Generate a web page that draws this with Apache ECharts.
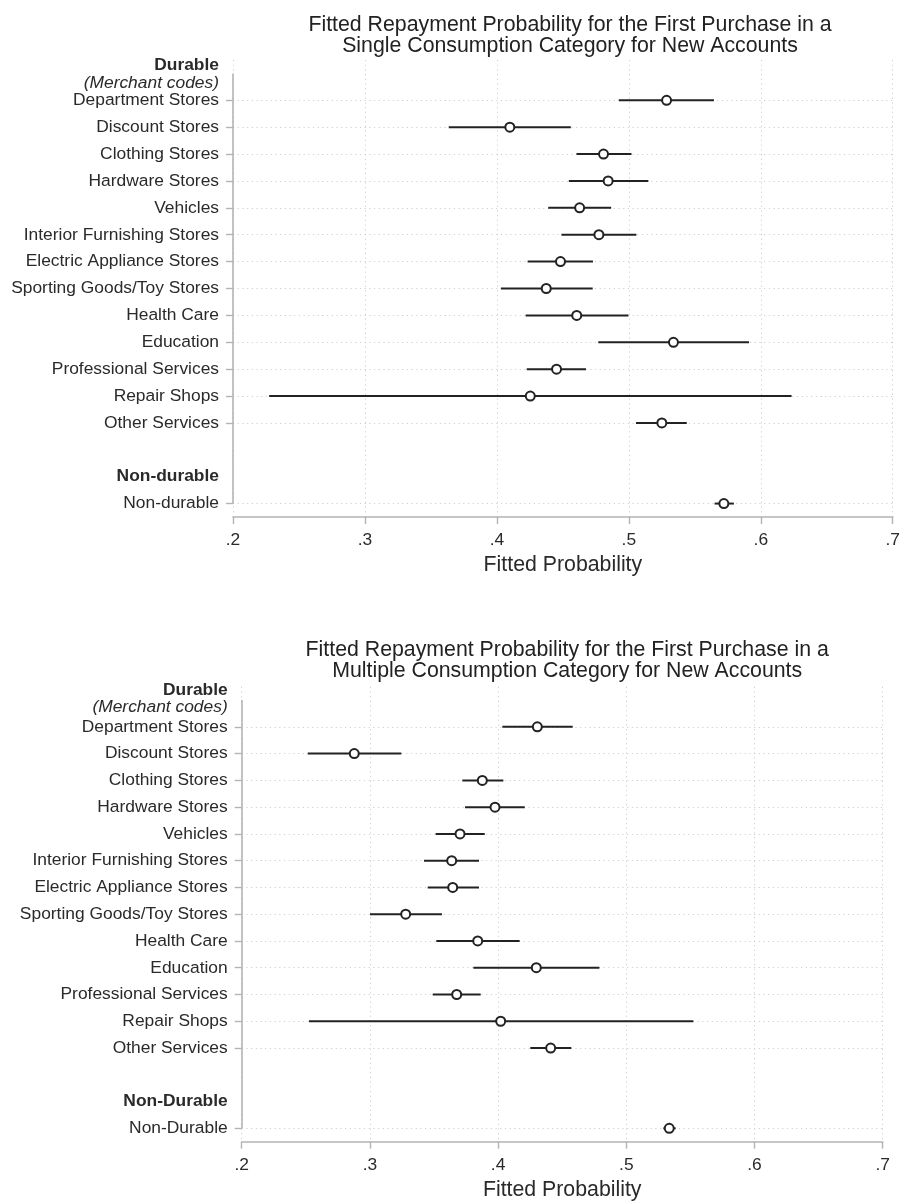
<!DOCTYPE html>
<html>
<head>
<meta charset="utf-8">
<script src="https://cdn.jsdelivr.net/npm/echarts@6/dist/echarts.min.js"></script>
<style>
html,body{margin:0;padding:0;background:#fff;}
#chart{width:903px;height:1202px;}
</style>
</head>
<body>
<div id="chart"></div>
<script>
// ---------- DATA ----------
const titleTop = "Fitted Repayment Probability for the First Purchase in a\nSingle Consumption Category for New Accounts";
const titleBottom = "Fitted Repayment Probability for the First Purchase in a\nMultiple Consumption Category for New Accounts";
const axisName = "Fitted Probability";
const xTickLabels = [".2", ".3", ".4", ".5", ".6", ".7"];

const catsTop = ["Department Stores","Discount Stores","Clothing Stores","Hardware Stores","Vehicles",
  "Interior Furnishing Stores","Electric Appliance Stores","Sporting Goods/Toy Stores","Health Care",
  "Education","Professional Services","Repair Shops","Other Services","Non-durable"];
const catsBottom = ["Department Stores","Discount Stores","Clothing Stores","Hardware Stores","Vehicles",
  "Interior Furnishing Stores","Electric Appliance Stores","Sporting Goods/Toy Stores","Health Care",
  "Education","Professional Services","Repair Shops","Other Services","Non-Durable"];
const groupsTop = ["Durable", "(Merchant codes)", "Non-durable"];
const groupsBottom = ["Durable", "(Merchant codes)", "Non-Durable"];

const estTop = [0.5286,0.4098,0.4808,0.4843,0.4627,0.4773,0.4482,0.4374,0.4605,0.5338,0.4452,0.4253,0.5250,0.5720];
const loTop  = [0.4924,0.3635,0.4603,0.4545,0.4389,0.4489,0.4233,0.4030,0.4218,0.4768,0.4226,0.2274,0.5054,0.5650];
const hiTop  = [0.5645,0.4560,0.5020,0.5148,0.4866,0.5057,0.4728,0.4726,0.4997,0.5911,0.4675,0.6233,0.5439,0.5796];

const estBottom = [0.4306,0.2878,0.3877,0.3976,0.3703,0.3638,0.3646,0.3279,0.3841,0.4298,0.3677,0.4020,0.4410,0.5335];
const loBottom  = [0.4033,0.2515,0.3721,0.3742,0.3513,0.3422,0.3451,0.3001,0.3518,0.3807,0.3490,0.2525,0.4251,0.5289];
const hiBottom  = [0.4582,0.3245,0.4041,0.4208,0.3896,0.3851,0.3851,0.3562,0.4168,0.4790,0.3864,0.5523,0.4571,0.5385];

// ---------- LAYOUT ----------
const itemRows = [1,2,3,4,5,6,7,8,9,10,11,12,13,16];
const FONT = "'Liberation Sans', Arial, sans-serif";
const TXT = '#2a2a2a';
const AX = '#b4b4b4';
const GRIDC = '#cfcfcf';
const LBL = 17.4;

function buildLabelMap(cats, groups, headerRows) {
  const m = {};
  itemRows.forEach((r, i) => { m[r.toFixed(2)] = cats[i]; });
  m[headerRows[0].toFixed(2)] = '{b|' + groups[0] + '}';
  m[headerRows[1].toFixed(2)] = '{i|' + groups[1] + '}';
  m[headerRows[2].toFixed(2)] = '{b|' + groups[2] + '}';
  return m;
}

const panels = [
  {cats: catsTop, groups: groupsTop, est: estTop, lo: loTop, hi: hiTop, title: titleTop,
   grid: {left: 233, right: 6, top: 60, height: 457}, titleTop: 9, headers: [-0.30, 0.36, 15]},
  {cats: catsBottom, groups: groupsBottom, est: estBottom, lo: loBottom, hi: hiBottom, title: titleBottom,
   grid: {left: 241.7, right: 20.3, top: 686.7, height: 455}, titleTop: 634, headers: [-0.38, 0.28, 15]}
];

const option = {
  backgroundColor: '#fff',
  animation: false,
  textStyle: {fontFamily: FONT},
  title: [], grid: [], xAxis: [], yAxis: [], series: []
};

panels.forEach((p, k) => {
  const cx = p.grid.left + (903 - p.grid.left - p.grid.right) / 2;
  option.title.push({
    text: p.title, left: cx, top: p.titleTop, textAlign: 'center',
    textStyle: {fontFamily: FONT, fontSize: 21.3, fontWeight: 'normal', color: '#222', lineHeight: 21.5}
  });
  option.grid.push(Object.assign({containLabel: false}, p.grid));
  option.xAxis.push({
    type: 'value', gridIndex: k, position: 'bottom', min: 0.2, max: 0.7, interval: 0.1,
    name: axisName, nameLocation: 'middle', nameGap: 38,
    nameTextStyle: {fontFamily: FONT, fontSize: 21.3, color: TXT},
    axisLine: {show: true, onZero: false, lineStyle: {color: AX, width: 1.6}},
    axisTick: {show: true, length: 7, lineStyle: {color: AX, width: 1.4}},
    axisLabel: {margin: 15, fontSize: 17.4, color: TXT, fontFamily: FONT,
      formatter: v => xTickLabels[Math.round((v - 0.2) * 10)]},
    splitLine: {show: true, lineStyle: {color: GRIDC, width: 1, type: [1.2, 3.5]}}
  });
  const labelMap = buildLabelMap(p.cats, p.groups, p.headers);
  const labelVals = itemRows.concat(p.headers);
  option.yAxis.push({
    type: 'value', gridIndex: k, inverse: true, min: -0.5, max: 16.5,
    axisLine: {show: false, onZero: false},
    axisTick: {show: true, length: 7, customValues: itemRows, lineStyle: {color: AX, width: 1.4}},
    axisLabel: {
      show: true, customValues: labelVals, margin: 14, fontSize: LBL, color: TXT, fontFamily: FONT,
      showMinLabel: true, showMaxLabel: true,
      formatter: v => labelMap[Number(v).toFixed(2)] || '',
      rich: {
        b: {fontWeight: 'bold', fontSize: LBL, color: TXT, fontFamily: FONT},
        i: {fontStyle: 'italic', fontSize: LBL, color: TXT, fontFamily: FONT}
      }
    },
    splitLine: {show: true, lineStyle: {color: GRIDC, width: 1, type: [1.2, 3.5]}}
  });
  // confidence interval segments
  option.series.push({
    type: 'custom', xAxisIndex: k, yAxisIndex: k, z: 3,
    data: p.lo.map((l, i) => [l, p.hi[i], itemRows[i]]),
    encode: {x: [0, 1], y: 2},
    renderItem: (params, api) => {
      const a = api.coord([api.value(0), api.value(2)]);
      const b = api.coord([api.value(1), api.value(2)]);
      return {type: 'line', shape: {x1: a[0], y1: a[1], x2: b[0], y2: b[1]},
        style: {stroke: '#222', lineWidth: 2}};
    }
  });
  // point estimates
  option.series.push({
    type: 'scatter', xAxisIndex: k, yAxisIndex: k, z: 5, clip: false,
    symbol: 'circle', symbolSize: 9,
    itemStyle: {color: '#fff', borderColor: '#222', borderWidth: 2, opacity: 1},
    data: p.est.map((e, i) => [e, itemRows[i]]),
    markLine: {
      silent: true, symbol: ['none', 'none'], label: {show: false}, animation: false,
      lineStyle: {color: AX, width: 1.6, type: 'solid'},
      emphasis: {disabled: true},
      data: [[{coord: [0.2, 0]}, {coord: [0.2, 16]}]]
    }
  });
});

const chart = echarts.init(document.getElementById('chart'), null, {renderer: 'canvas'});
chart.setOption(option);
</script>
</body>
</html>
